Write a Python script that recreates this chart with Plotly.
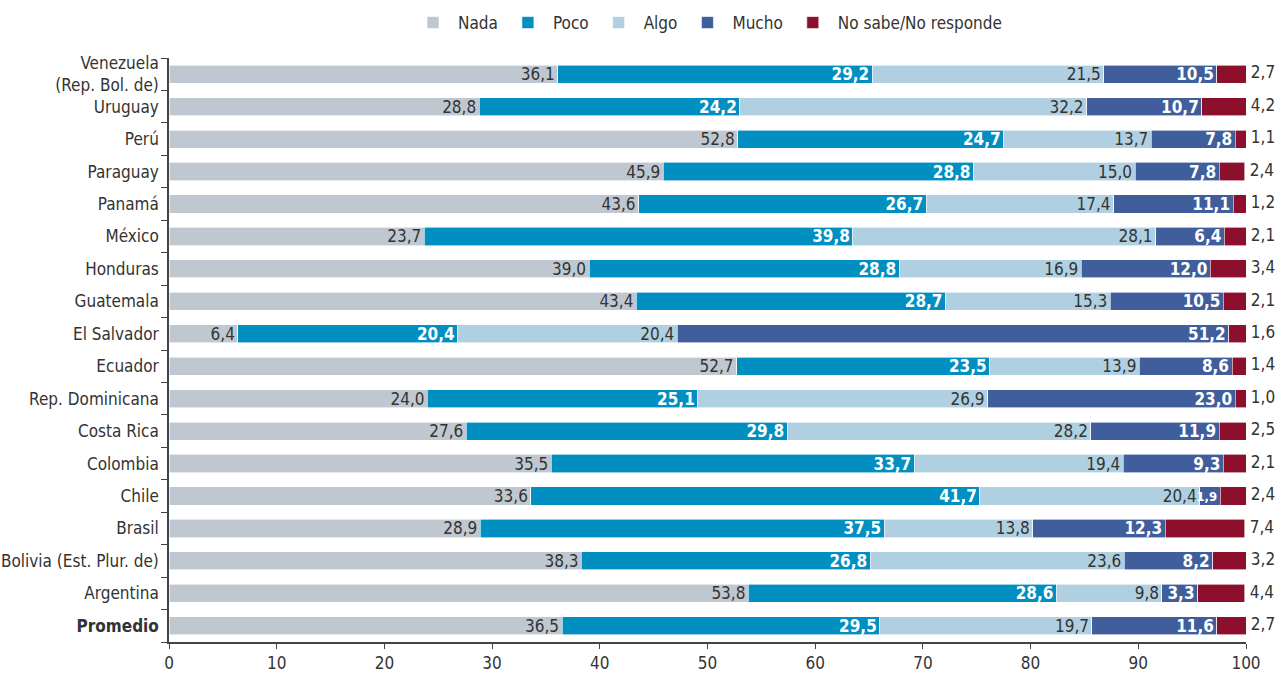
import plotly.graph_objects as go

# Countries, top to bottom
countries = [
    "Venezuela (Rep. Bol. de)", "Uruguay", "Perú", "Paraguay", "Panamá", "México",
    "Honduras", "Guatemala", "El Salvador", "Ecuador", "Rep. Dominicana",
    "Costa Rica", "Colombia", "Chile", "Brasil", "Bolivia (Est. Plur. de)",
    "Argentina", "Promedio",
]
tick_labels = [
    "Venezuela<br>(Rep. Bol. de)", "Uruguay", "Perú", "Paraguay", "Panamá", "México",
    "Honduras", "Guatemala", "El Salvador", "Ecuador", "Rep. Dominicana",
    "Costa Rica", "Colombia", "Chile", "Brasil", "Bolivia (Est. Plur. de)",
    "Argentina", "<b>Promedio</b>",
]

nada = [36.1, 28.8, 52.8, 45.9, 43.6, 23.7, 39.0, 43.4, 6.4, 52.7, 24.0, 27.6, 35.5, 33.6, 28.9, 38.3, 53.8, 36.5]
poco = [29.2, 24.2, 24.7, 28.8, 26.7, 39.8, 28.8, 28.7, 20.4, 23.5, 25.1, 29.8, 33.7, 41.7, 37.5, 26.8, 28.6, 29.5]
algo = [21.5, 32.2, 13.7, 15.0, 17.4, 28.1, 16.9, 15.3, 20.4, 13.9, 26.9, 28.2, 19.4, 20.4, 13.8, 23.6, 9.8, 19.7]
mucho = [10.5, 10.7, 7.8, 7.8, 11.1, 6.4, 12.0, 10.5, 51.2, 8.6, 23.0, 11.9, 9.3, 1.9, 12.3, 8.2, 3.3, 11.6]
nsnr = [2.7, 4.2, 1.1, 2.4, 1.2, 2.1, 3.4, 2.1, 1.6, 1.4, 1.0, 2.5, 2.1, 2.4, 7.4, 3.2, 4.4, 2.7]

FONT = "Liberation Sans Narrow, DejaVu Sans Condensed, Roboto, sans-serif"
DARK = "#333333"
AXIS = "#444444"
SIZE = 17

series = [
    ("Nada", nada, "#bfc8d1", DARK, False),
    ("Poco", poco, "#008fc0", "white", True),
    ("Algo", algo, "#b0d0e1", DARK, False),
    ("Mucho", mucho, "#405e9b", "white", True),
]

fig = go.Figure()
for name, vals, color, tcolor, bold in series:
    # very thin segments get a smaller label so it stays on its own bar
    sizes = [SIZE if v >= 2.5 else 13 for v in vals]
    fig.add_trace(go.Bar(
        name=name,
        y=countries,
        x=vals,
        orientation="h",
        marker=dict(color=color, line=dict(color="white", width=0.6)),
        texttemplate="<b>%{x:.1f}</b>" if bold else "%{x:.1f}",
        textposition="inside",
        insidetextanchor="end",
        constraintext="none",
        textfont=dict(family=FONT, size=sizes, color=tcolor),
        cliponaxis=False,
        hoverinfo="skip",
    ))

# "No sabe/No responde" segment, labelled just past the end of each bar
fig.add_trace(go.Bar(
    name="No sabe/No responde",
    y=countries,
    x=nsnr,
    orientation="h",
    marker=dict(color="#8c102c", line=dict(color="white", width=0.6)),
    textposition="none",
    cliponaxis=False,
    hoverinfo="skip",
))
totals = [a + b + c + d + e for a, b, c, d, e in zip(nada, poco, algo, mucho, nsnr)]
label_x = [min(t, 100.0) for t in totals]
fig.add_trace(go.Scatter(
    x=label_x,
    y=countries,
    mode="text",
    text=["\u00a0" + f"{v:.1f}".replace(".", ",") for v in nsnr],
    textposition="middle right",
    textfont=dict(family=FONT, size=SIZE, color=DARK),
    cliponaxis=False,
    showlegend=False,
    hoverinfo="skip",
))

fig.update_layout(
    barmode="stack",
    bargap=0.44,
    separators=",.",
    width=1277,
    height=673,
    paper_bgcolor="white",
    plot_bgcolor="white",
    margin=dict(l=169, r=31, t=58, b=31, autoexpand=False),
    font=dict(family=FONT, size=SIZE, color=DARK),
    legend=dict(
        orientation="h",
        x=0.5, xanchor="center", xref="paper",
        y=1 - 23 / 673, yanchor="middle", yref="container",
        font=dict(family=FONT, size=SIZE, color=DARK),
        itemwidth=40,
        traceorder="normal",
    ),
    xaxis=dict(
        range=[0, 100],
        tickvals=[0, 10, 20, 30, 40, 50, 60, 70, 80, 90, 100],
        showgrid=False,
        zeroline=False,
        showline=True,
        linecolor=AXIS,
        linewidth=1.5,
        ticks="outside",
        ticklen=5,
        tickcolor=AXIS,
        automargin=False,
        tickfont=dict(family=FONT, size=SIZE, color=DARK),
    ),
    yaxis=dict(
        type="category",
        categoryorder="array",
        categoryarray=countries,
        range=[len(countries) - 0.5, -0.5],
        tickvals=countries,
        ticktext=tick_labels,
        tickson="boundaries",
        ticks="outside",
        ticklen=6,
        tickcolor=AXIS,
        ticklabelstandoff=5,
        showline=True,
        linecolor=AXIS,
        linewidth=1.5,
        showgrid=False,
        automargin=False,
        tickfont=dict(family=FONT, size=SIZE, color=DARK),
    ),
)

fig.write_html("out.html")
